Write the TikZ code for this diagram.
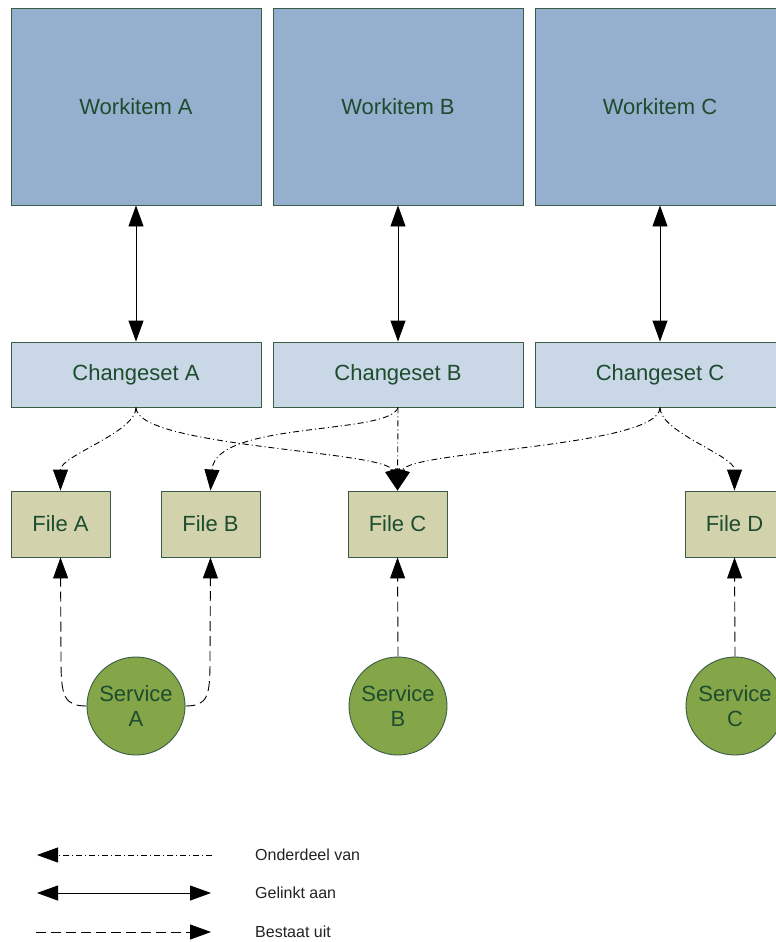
\documentclass[tikz,border=0pt]{standalone}
\usepackage{fontspec}
\setmainfont{Liberation Sans}
\usetikzlibrary{arrows.meta,calc}
\definecolor{wiFill}{RGB}{149,176,206}
\definecolor{csFill}{RGB}{201,215,231}
\definecolor{fiFill}{RGB}{210,211,173}
\definecolor{svFill}{RGB}{132,165,72}
\definecolor{edgeGreen}{RGB}{58,92,70}
\definecolor{labelGreen}{RGB}{30,76,46}
\definecolor{legendText}{RGB}{34,34,34}
\begin{document}
\begin{tikzpicture}[x=1pt,y=-1pt,
  shape base/.style={draw=edgeGreen,line width=0.9pt,text=labelGreen,
    font=\fontsize{22}{25}\selectfont,inner sep=0pt,align=center},
  workitem/.style={shape base,rectangle,fill=wiFill,minimum width=250pt,minimum height=197pt},
  changeset/.style={shape base,rectangle,fill=csFill,minimum width=250pt,minimum height=65pt},
  filebox/.style={shape base,rectangle,fill=fiFill,minimum width=99pt,minimum height=66pt},
  service/.style={shape base,circle,fill=svFill,minimum size=98pt},
  head/.style={Triangle[length=21pt,width=15pt,line width=0.5pt,solid]},
  onderdeel/.style={draw=black,line width=0.9pt,dash pattern=on 6pt off 3pt on 1pt off 3pt,-{Triangle[length=21pt,width=15pt,sharp]}},
  gelinkt/.style={draw=black,line width=0.9pt,{Triangle[length=21pt,width=15pt]}-{Triangle[length=21pt,width=15pt]}},
  bestaat/.style={draw=black,line width=0.9pt,dash pattern=on 10pt off 5pt,-{Triangle[length=21pt,width=15pt]}},
  legendlabel/.style={anchor=west,inner sep=0pt,text=legendText,font=\fontsize{16}{19}\selectfont}
]
\useasboundingbox (0,0) rectangle (776,942);
\clip (0,0) rectangle (776,942);

% work items
\node[workitem]  (wA) at (136,106.5) {Workitem A};
\node[workitem]  (wB) at (398,106.5) {Workitem B};
\node[workitem]  (wC) at (660,106.5) {Workitem C};

% changesets
\node[changeset] (cA) at (136,374.5) {Changeset A};
\node[changeset] (cB) at (398,374.5) {Changeset B};
\node[changeset] (cC) at (660,374.5) {Changeset C};

% files
\node[filebox] (fA) at (60.5,524) {File A};
\node[filebox] (fB) at (210.5,524) {File B};
\node[filebox] (fC) at (397.5,524) {File C};
\node[filebox] (fD) at (734.5,524) {File D};

% services
\node[service] (sA) at (136,706) {Service\\A};
\node[service] (sB) at (398,706) {Service\\B};
\node[service] (sC) at (735,706) {Service\\C};

% work item <-> changeset links
\draw[gelinkt] (wA) -- (cA);
\draw[gelinkt] (wB) -- (cB);
\draw[gelinkt] (wC) -- (cC);

% files belonging to changesets
\draw[onderdeel] (cA.south) .. controls +(0,25) and +(0,-35) .. (fA.north);
\draw[onderdeel] (cA.south) .. controls +(0,40) and +(-10,-40) .. (fC.north);
\draw[onderdeel] (cB.south) .. controls +(-8,28) and +(5,-70) .. (fB.north);
\draw[onderdeel] (cB.south) -- (fC.north);
\draw[onderdeel] (cC.south) .. controls +(0,40) and +(10,-40) .. (fC.north);
\draw[onderdeel] (cC.south) .. controls +(0,25) and +(0,-35) .. (fD.north);

% services consisting of files
\draw[bestaat] (sA.west) .. controls (64,706) and (61,696) .. (61,660) -- (fA.south);
\draw[bestaat] (sA.east) .. controls (208,706) and (210,696) .. (210,660) -- (fB.south);
\draw[bestaat] (sB.north) -- (fC.south);
\draw[bestaat] (sC.north) -- (fD.south);

% legend
\coordinate (l1a) at (37,855);  \coordinate (l1b) at (212,855);
\coordinate (l2a) at (37,893);  \coordinate (l2b) at (211,893);
\coordinate (l3a) at (36,932);  \coordinate (l3b) at (211,932);
\draw[onderdeel] (l1b) -- (l1a);
\draw[gelinkt] (l2a) -- (l2b);
\draw[bestaat] (l3a) -- (l3b);
\node[legendlabel] (t1) at (255,855) {Onderdeel van};
\node[legendlabel] (t2) at (255,893) {Gelinkt aan};
\node[legendlabel] (t3) at (255,932) {Bestaat uit};
\end{tikzpicture}
\end{document}
